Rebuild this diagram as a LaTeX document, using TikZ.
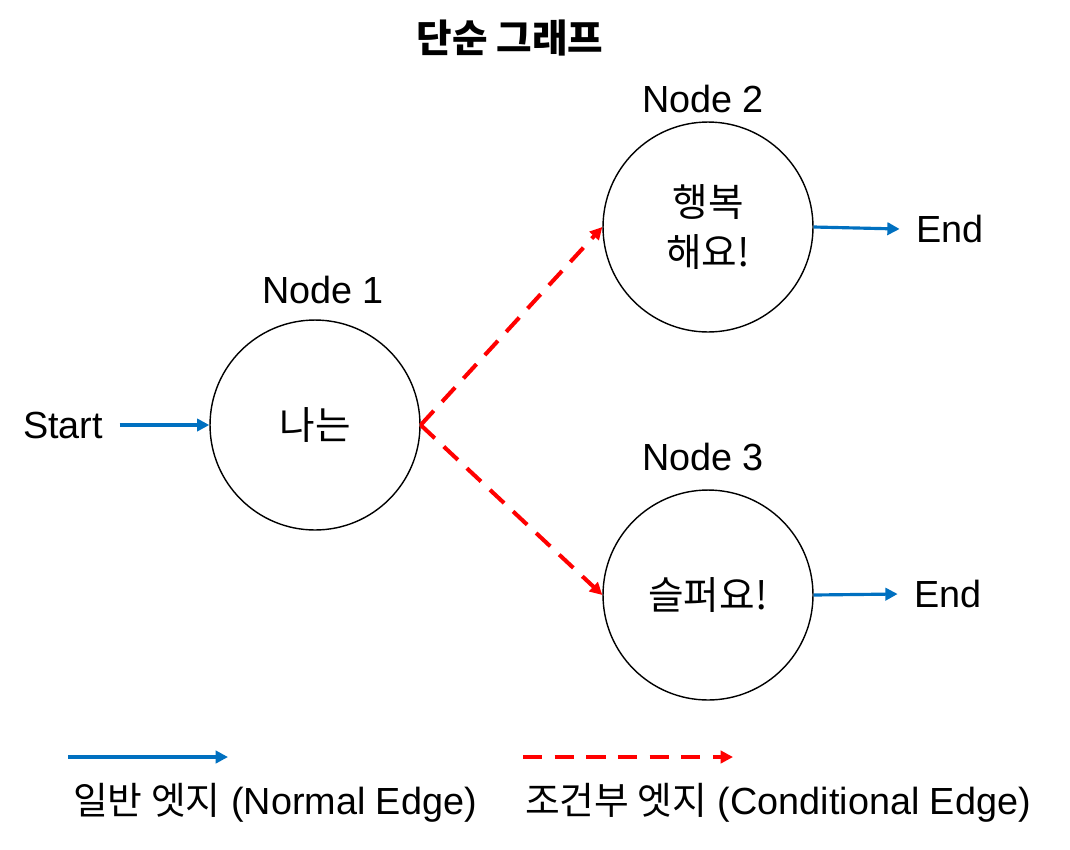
\documentclass[tikz,border=0pt]{standalone}
\usepackage{fontspec}
\setmainfont{Liberation Sans}
\newfontfamily\kr{Noto Sans CJK KR}
\usetikzlibrary{arrows.meta, positioning}
\definecolor{edgeblue}{RGB}{0,112,192}

\begin{document}
\begin{tikzpicture}[
    x=0.02cm, y=-0.02cm,
    >={Triangle[length=7pt, width=7pt]},
    state style/.style={circle, draw, line width=0.8pt, minimum size=4.2cm, inner sep=0pt, font=\kr\fontsize{22}{28}\selectfont, align=center},
    label style/.style={font=\fontsize{21.5}{26}\selectfont},
    normal edge/.style={line width=1.8pt, edgeblue, ->},
    conditional edge/.style={line width=2.3pt, red, dash pattern=on 11pt off 7pt, ->}
]
\useasboundingbox (0,0) rectangle (1070,849);

% Title
\node[font=\kr\bfseries\fontsize{22}{26}\selectfont] (title) at (510,38) {단순 그래프};

% Draw the nodes
\node[state style] (n1) at (315,425) {나는};
\node[state style] (n2) at (708,227) {행복\\해요!};
\node[state style] (n3) at (708,595) {슬퍼요!};

% Node names above the circles
\node[label style] (l1) at (323,290) {Node 1};
\node[label style] (l2) at (703,99) {Node 2};
\node[label style] (l3) at (703,457) {Node 3};

% Start and end
\node[label style] (start) at (63,425) {Start};
\node[label style] (end2) at (950,229) {End};
\node[label style] (end3) at (948,594) {End};

\draw[normal edge] ([xshift=6pt]start.east) -- (n1.west);
\draw[normal edge] (n2.east) -- ([xshift=-6pt]end2.west);
\draw[normal edge] (n3.east) -- ([xshift=-6pt]end3.west);

% Conditional edges
\draw[conditional edge] (n1.east) -- (n2.west);
\draw[conditional edge] (n1.east) -- (n3.west);

% Legend
\coordinate (a1) at (68,757);
\coordinate (a2) at (228,757);
\coordinate (b1) at (523,757);
\coordinate (b2) at (733,757);
\draw[normal edge] (a1) -- (a2);
\draw[conditional edge] (b1) -- (b2);
\node[label style] (leg1) at (275,803) {{\kr 일반 엣지} (Normal Edge)};
\node[label style] (leg2) at (778,803) {{\kr 조건부 엣지} (Conditional Edge)};
\end{tikzpicture}
\end{document}
